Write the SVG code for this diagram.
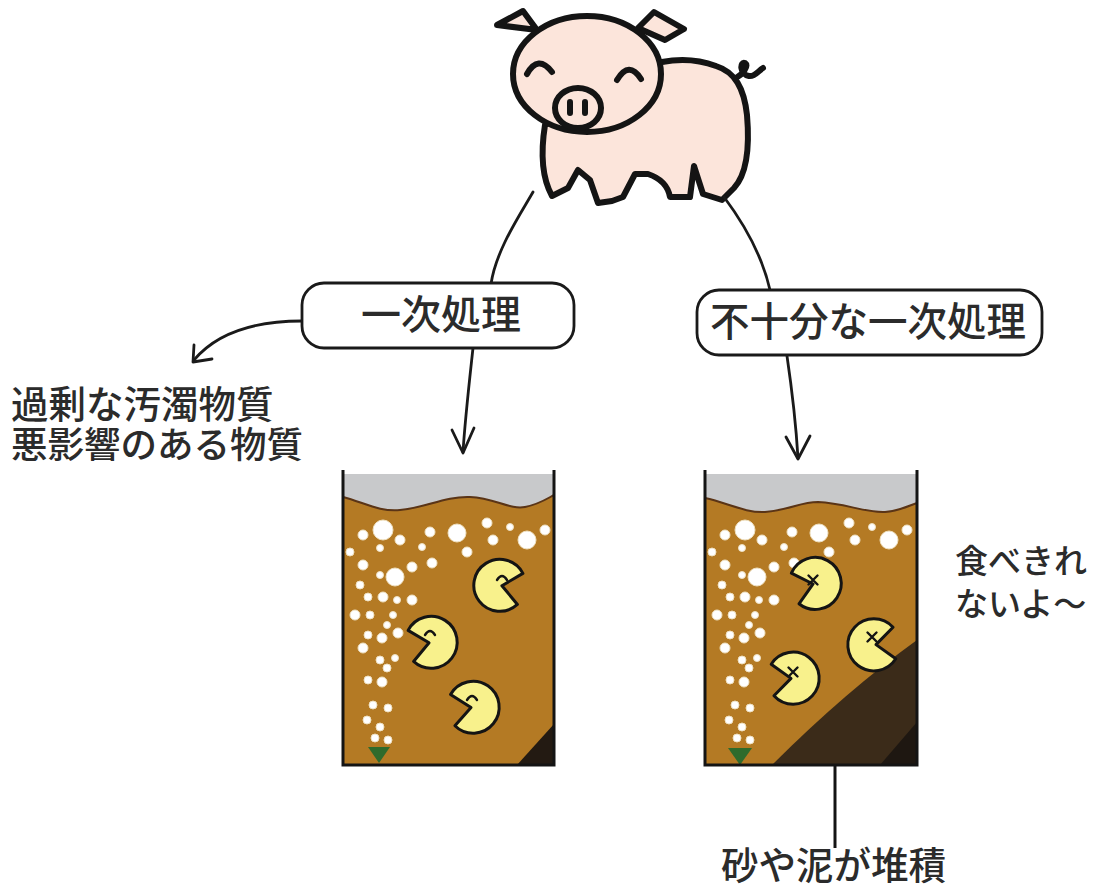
<svg xmlns="http://www.w3.org/2000/svg" width="1099" height="889" viewBox="0 0 1099 889">
  <style>
    .txt { font-family: "Noto Sans CJK JP", "Noto Sans", sans-serif; font-weight: 500; fill: #2b2b2b; }
    .line { fill: none; stroke: #1a1a1a; stroke-width: 2.8; stroke-linecap: round; stroke-linejoin: round; }
    .box { fill: #ffffff; stroke: #1a1a1a; stroke-width: 2.8; }
    .pig { fill: #fce5db; stroke: #141414; stroke-width: 6; stroke-linejoin: round; stroke-linecap: round; }
    .pigline { fill: none; stroke: #141414; stroke-width: 6; stroke-linecap: round; stroke-linejoin: round; }
    .pacbody { fill: #f8f18c; stroke: #141414; stroke-width: 3; stroke-linejoin: round; }
    .eye { fill: none; stroke: #141414; stroke-width: 2.4; stroke-linecap: round; }
    .wall { fill: none; stroke: #141414; stroke-width: 3; }
    .water { fill: #b47a24; }
    .air { fill: #c8c9cb; }
    .bub { fill: #ffffff; stroke: #efe0c0; stroke-width: 1; }
  </style>
  <defs>
    <!-- pac-man shaped organism, mouth facing +x -->
    <path id="pac" class="pacbody" d="M4,0 L22.5,-15.8 A26,26 0 1 0 22.5,15.8 Z"/>
    <path id="smile" class="eye" d="M-5,3 Q0,-5 5,3"/>
    <path id="xeye" class="eye" d="M-4.5,-4.5 L4.5,4.5 M4.5,-4.5 L-4.5,4.5"/>
    <!-- rising air bubbles from the diffuser -->
    <g id="bubbles">
      <circle class="bub" cx="383" cy="530" r="10"/>
      <circle class="bub" cx="363" cy="535" r="5"/>
      <circle class="bub" cx="400" cy="540" r="5"/>
      <circle class="bub" cx="380" cy="548" r="3.5"/>
      <circle class="bub" cx="430" cy="532" r="5"/>
      <circle class="bub" cx="457" cy="533" r="9"/>
      <circle class="bub" cx="487" cy="523" r="5"/>
      <circle class="bub" cx="493" cy="540" r="5"/>
      <circle class="bub" cx="467" cy="552" r="5"/>
      <circle class="bub" cx="510" cy="527" r="3.5"/>
      <circle class="bub" cx="527" cy="540" r="9"/>
      <circle class="bub" cx="545" cy="530" r="5"/>
      <circle class="bub" cx="422" cy="547" r="3.5"/>
      <circle class="bub" cx="350" cy="552" r="4"/>
      <circle class="bub" cx="363" cy="565" r="5"/>
      <circle class="bub" cx="395" cy="577" r="9"/>
      <circle class="bub" cx="380" cy="575" r="3.5"/>
      <circle class="bub" cx="412" cy="567" r="5"/>
      <circle class="bub" cx="432" cy="563" r="5"/>
      <circle class="bub" cx="360" cy="585" r="4"/>
      <circle class="bub" cx="368" cy="597" r="4"/>
      <circle class="bub" cx="383" cy="597" r="5"/>
      <circle class="bub" cx="397" cy="600" r="3.5"/>
      <circle class="bub" cx="412" cy="600" r="5"/>
      <circle class="bub" cx="355" cy="615" r="5"/>
      <circle class="bub" cx="370" cy="615" r="4"/>
      <circle class="bub" cx="393" cy="615" r="3.5"/>
      <circle class="bub" cx="387" cy="625" r="3.5"/>
      <circle class="bub" cx="398" cy="633" r="5"/>
      <circle class="bub" cx="368" cy="635" r="4"/>
      <circle class="bub" cx="382" cy="638" r="5"/>
      <circle class="bub" cx="363" cy="648" r="5"/>
      <circle class="bub" cx="380" cy="660" r="4"/>
      <circle class="bub" cx="395" cy="658" r="3.5"/>
      <circle class="bub" cx="387" cy="668" r="4"/>
      <circle class="bub" cx="368" cy="680" r="4"/>
      <circle class="bub" cx="382" cy="682" r="5"/>
      <circle class="bub" cx="373" cy="705" r="4"/>
      <circle class="bub" cx="388" cy="708" r="4"/>
      <circle class="bub" cx="367" cy="720" r="4"/>
      <circle class="bub" cx="380" cy="727" r="4"/>
      <circle class="bub" cx="375" cy="738" r="4"/>
      <circle class="bub" cx="388" cy="740" r="4"/>
    </g>
  </defs>

  <rect width="1099" height="889" fill="#ffffff"/>

  <!-- pig -->
  <g id="pig">
    <path class="pig" d="M497,25 L523,11 L537,30 Z"/>
    <path class="pig" d="M638,28 L654,12 L684,29 L665,40 Z"/>
    <path class="pigline" d="M736,78 C743,74 749,66 745,63 C740,61 739,74 749,76 C755,77 758,71 763,68" stroke-width="4"/>
    <path class="pig" d="M545,125 C541,150 541,176 552,196 L568,188 L578,170 L590,180 L598,203 L612,201 L623,197 L635,174 L648,174 C660,178 668,186 670,197 L690,197 L694,166 L703,194 L722,200 L734,188 C746,175 750,150 747,115 C744,88 735,72 716,66 C700,60 682,58 662,62 Z"/>
    <ellipse class="pig" cx="587" cy="74" rx="74" ry="58"/>
    <path class="pigline" d="M527,74 Q538,54 552,72" stroke-width="7"/>
    <path class="pigline" d="M617,80 Q629,60 641,79" stroke-width="7"/>
    <ellipse class="pig" cx="578" cy="108" rx="23" ry="20"/>
    <path class="pigline" d="M570,102 L570,113 M585,102 L585,113" stroke-width="4.5"/>
  </g>

  <!-- connectors -->
  <g id="connectors">
    <path class="line" d="M533,192 C520,215 496,250 491,284"/>
    <path class="line" d="M473,348 C469,385 465,420 463,452"/>
    <path class="line" d="M452,430 L463,453 L474,428"/>
    <path class="line" d="M724,197 C745,225 762,255 770,290"/>
    <path class="line" d="M787,356 C792,390 796,425 798,458"/>
    <path class="line" d="M786,437 L798,459 L810,436"/>
    <path class="line" d="M302,321 C250,321 215,335 194,360"/>
    <path class="line" d="M194,345 L193,362 L212,359"/>
    <path d="M835,745 L835,848" stroke="#141414" stroke-width="3" fill="none"/>
  </g>

  <!-- primary treatment box -->
  <g id="box-primary">
    <rect class="box" x="302" y="283" width="272" height="65" rx="22"/>
    <text class="txt" x="441" y="329" font-size="40" text-anchor="middle">一次処理</text>
  </g>

  <!-- insufficient primary treatment box -->
  <g id="box-insufficient">
    <rect class="box" x="697" y="290" width="345" height="65" rx="22"/>
    <text class="txt" x="868" y="336" font-size="39.5" text-anchor="middle">不十分な一次処理</text>
  </g>

  <!-- removed substances -->
  <g id="label-removed">
    <text class="txt" font-size="37"><tspan x="11" y="418" font-size="37.5">過剰な汚濁物質</tspan><tspan x="11" y="458" font-size="36.5">悪影響のある物質</tspan></text>
  </g>

  <!-- aeration tank, good condition -->
  <g id="tank-left">
    <rect class="air" x="343" y="474" width="211" height="40"/>
    <path class="water" d="M343,497 C365,503 380,512 400,510 C425,508 445,496 470,497 C495,498 510,510 525,507 C540,504 548,498 554,495 L554,765 L343,765 Z"/>
    <path d="M343,497 C365,503 380,512 400,510 C425,508 445,496 470,497 C495,498 510,510 525,507 C540,504 548,498 554,495" fill="none" stroke="#5a3416" stroke-width="2"/>
    <use href="#bubbles"/>
    <path d="M517,765 L554,724 L554,765 Z" fill="#231a12"/>
    <path d="M368,747 L390,747 L379,763 Z" fill="#2f6b2c"/>
    <use href="#pac" transform="translate(498,585) rotate(10)"/>
    <use href="#smile" transform="translate(502,577)"/>
    <use href="#pac" transform="translate(433,642) rotate(170)"/>
    <use href="#smile" transform="translate(430,632)"/>
    <use href="#pac" transform="translate(475,707) rotate(172)"/>
    <use href="#smile" transform="translate(472,697)"/>
    <path class="wall" d="M343,470 L343,765 L554,765 L554,470"/>
  </g>

  <!-- aeration tank, sediment build-up -->
  <g id="tank-right">
    <rect class="air" x="705" y="474" width="212" height="42"/>
    <path class="water" d="M705,498 C728,503 745,513 765,512 C790,510 800,502 818,502 C845,503 865,513 885,512 C900,511 910,505 917,503 L917,765 L705,765 Z"/>
    <path d="M705,498 C728,503 745,513 765,512 C790,510 800,502 818,502 C845,503 865,513 885,512 C900,511 910,505 917,503" fill="none" stroke="#5a3416" stroke-width="2"/>
    <use href="#bubbles" transform="translate(362,0)"/>
    <path d="M772,765 Q845,692 917,640 L917,765 Z" fill="#3b2b19"/>
    <path d="M880,765 L917,722 L917,765 Z" fill="#1e1711"/>
    <path d="M728,748 L752,748 L740,765 Z" fill="#2f6b2c"/>
    <use href="#pac" transform="translate(817,583) rotate(166)"/>
    <use href="#xeye" transform="translate(813,580)"/>
    <use href="#pac" transform="translate(872,645) rotate(-5)"/>
    <use href="#xeye" transform="translate(872,637)"/>
    <use href="#pac" transform="translate(795,678) rotate(175)"/>
    <use href="#xeye" transform="translate(793,672)"/>
    <path class="wall" d="M705,470 L705,765 L917,765 L917,470"/>
  </g>

  <!-- speech -->
  <g id="label-cannot-eat">
    <text class="txt" font-size="33"><tspan x="955" y="573">食べきれ</tspan><tspan x="955" y="616">ないよ〜</tspan></text>
  </g>

  <!-- sediment label -->
  <g id="label-sediment">
    <text class="txt" x="721" y="879" font-size="37.5">砂や泥が堆積</text>
  </g>
</svg>
